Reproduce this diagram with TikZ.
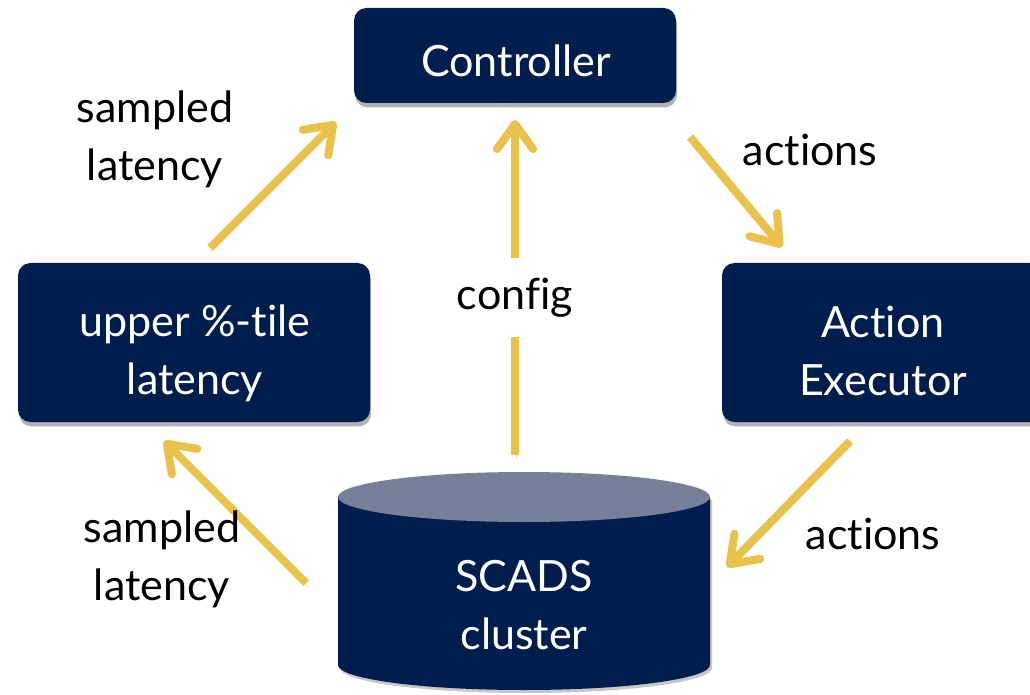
\documentclass[tikz,border=0pt]{standalone}
\usepackage{fontspec}
\setmainfont{Lato}[Ligatures=NoCommon]
\usetikzlibrary{arrows.meta,shadows}
\definecolor{navy}{HTML}{001E4D}
\definecolor{lid}{HTML}{768099}
\definecolor{gold}{HTML}{E8C24A}
\newcommand\diagfont{\fontsize{24.5}{33}\selectfont}
\begin{document}
\begin{tikzpicture}[x=0.02cm,y=0.02cm,
  box/.style={rectangle, rounded corners=0.25cm, fill=navy, text=white,
    font=\diagfont, align=center, inner sep=0pt,
    drop shadow={shadow xshift=0.6pt, shadow yshift=-2.5pt, opacity=0.3, fill=black}},
  boxtext/.style={text=white, font=\diagfont, align=center, inner sep=0pt},
  lbl/.style={text=black, font=\diagfont, align=center, inner sep=0pt},
  flow/.style={draw=gold, line width=4.6pt,
    -{Straight Barb[length=0.5cm,width=0.72cm,round]},
    preaction={draw=black, opacity=0.15, transform canvas={xshift=1pt,yshift=-2pt}}}]
\useasboundingbox (0,0) rectangle (1030,-695);

% boxes
\node[box, minimum width=322*0.02cm, minimum height=95*0.02cm] (ctrl) at (515,-55.5) {};
\node[boxtext] (ctrllbl) at (516,-61) {Controller};
\node[box, minimum width=352*0.02cm, minimum height=159*0.02cm] (pct) at (194,-342.5) {};
\node[boxtext] (pctlbl) at (195,-353) {upper \%-tile\\latency};
\node[box, minimum width=320*0.02cm, minimum height=159*0.02cm] (exec) at (882,-342.5) {};
\node[boxtext] (execlbl) at (883,-351) {Action\\Executor};

% storage cylinder
\fill[black, opacity=0.22] (340,-500) -- (340,-668) arc[start angle=180,end angle=360,x radius=186,y radius=25] -- (712,-500) -- cycle;
\fill[navy] (338,-497) -- (338,-665) arc[start angle=180,end angle=360,x radius=186,y radius=25] -- (710,-497) -- cycle;
\fill[lid] (524,-497) ellipse[x radius=186, y radius=25];
\node[boxtext] (scads) at (524,-605) {SCADS\\cluster};

% connector end points
\coordinate (a1) at (210,-248);  \coordinate (b1) at (336,-122);
\coordinate (a2) at (515,-455);  \coordinate (b2) at (515,-120);
\coordinate (a3) at (690,-137);  \coordinate (b3) at (782,-247);
\coordinate (a4) at (850,-441);  \coordinate (b4) at (727,-567);
\coordinate (a5) at (306,-583);  \coordinate (b5) at (164,-441);

% connectors
\draw[flow] (a1) -- (b1);
\draw[flow] (a2) -- node[lbl, pos=0.47, fill=white, inner ysep=0.8cm*0.5, inner xsep=2pt] (cfg) {config} (b2);
\draw[flow] (a3) -- (b3);
\draw[flow] (a4) -- (b4);
\draw[flow] (a5) -- (b5);

% labels
\node[lbl] (lat1) at (155,-139) {sampled\\latency};
\node[lbl] (lat2) at (162,-559) {sampled\\latency};
\node[lbl] (act1) at (810,-150) {actions};
\node[lbl] (act2) at (873,-534) {actions};
\end{tikzpicture}
\end{document}
